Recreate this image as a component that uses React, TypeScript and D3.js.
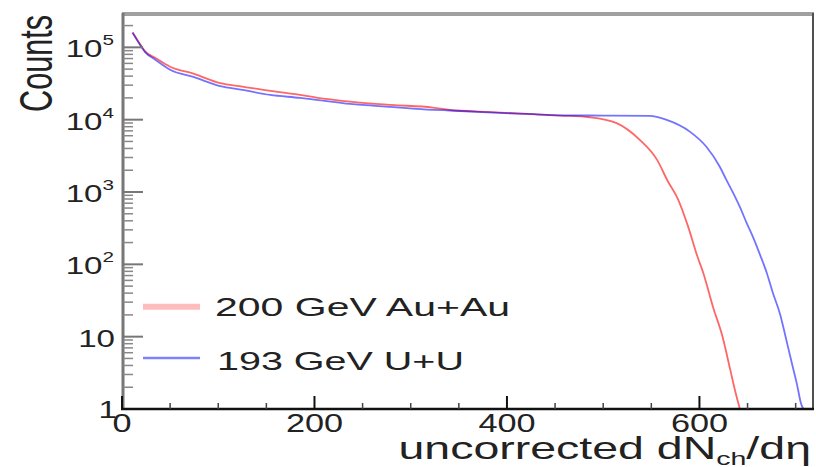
import React from "react";
import * as d3 from "d3";

const auX = [11, 18, 24, 35, 50, 75, 102, 125, 154, 185, 202, 237, 280, 323, 341, 380, 427, 455, 486, 514, 538, 556, 567, 578, 588, 598, 604, 614, 624, 632, 637, 642];
const auY = [1.6e5, 1.15e5, 8.8e4, 7.1e4, 5.4e4, 4.3e4, 3.2e4, 2.87e4, 2.5e4, 2.2e4, 2.02e4, 1.78e4, 1.6e4, 1.47e4, 1.36e4, 1.28e4, 1.19e4, 1.14e4, 1.08e4, 8950, 5250, 2780, 1420, 780, 340, 127, 76, 26, 10, 3.5, 1.8, 1];

const uuX = [11, 18, 24, 35, 50, 75, 102, 125, 154, 185, 202, 237, 280, 323, 341, 380, 427, 455, 500, 548, 566, 590, 607, 621, 628, 635, 642, 649, 656, 663, 670, 676, 684, 691, 697, 701, 706, 708];
const uuY = [1.6e5, 1.12e5, 8.6e4, 6.7e4, 4.9e4, 3.87e4, 2.9e4, 2.58e4, 2.2e4, 2.0e4, 1.88e4, 1.65e4, 1.5e4, 1.37e4, 1.34e4, 1.26e4, 1.19e4, 1.15e4, 1.14e4, 1.13e4, 9930, 6840, 4250, 2250, 1470, 972, 622, 374, 232, 135, 76, 41.5, 20, 8.2, 3.8, 2.3, 1.14, 1];

const xMajor = [0, 200, 400, 600];
const xMinor = [50, 100, 150, 250, 300, 350, 450, 500, 550, 650, 700];
const yDecades = [1, 2, 3, 4, 5];
const legendLabels = ["200 GeV Au+Au", "193 GeV U+U"];

const FONT = "'Liberation Sans', Arial, Helvetica, sans-serif";

export default function App() {
  const x = d3.scaleLinear().domain([0, 718]).range([122, 813]);
  const y = d3.scaleLog().domain([1, 2.8e5]).range([409, 15]);

  const auData = auX.map((v, i) => [v, auY[i]] as [number, number]);
  const uuData = uuX.map((v, i) => [v, uuY[i]] as [number, number]);
  const line = d3
    .line<[number, number]>()
    .x((d) => x(d[0]))
    .y((d) => y(d[1]))
    .curve(d3.curveMonotoneX);

  const yMinor: number[] = [];
  for (let e = 0; e <= 5; e++) {
    for (let m = 2; m <= 9; m++) {
      const v = m * Math.pow(10, e);
      if (v < 2.8e5) yMinor.push(v);
    }
  }
  const yLabels = [0, ...yDecades];

  return (
    <svg
      width={816}
      height={467}
      style={{ position: "absolute", left: 0, top: 0, background: "#fff" }}
      fontFamily={FONT}
    >
      <rect x={0} y={0} width={816} height={467} fill="#fff" />
      {/* frame */}
      <line x1={122} y1={14} x2={814} y2={14} stroke="#a0a0a0" strokeWidth={4} />
      <line x1={813} y1={13} x2={813} y2={410} stroke="#505050" strokeWidth={2} />

      {/* curves */}
      <path d={line(auData) || ""} fill="none" stroke="#ff0000" strokeWidth={1.8} strokeOpacity={0.6} />
      <path d={line(uuData) || ""} fill="none" stroke="#0000ff" strokeWidth={1.8} strokeOpacity={0.55} />

      {/* y axis */}
      <line x1={123} y1={13} x2={123} y2={410} stroke="#777" strokeWidth={3} />
      {yDecades.map((e) => (
        <line key={"ym" + e} x1={123} x2={143} y1={y(Math.pow(10, e))} y2={y(Math.pow(10, e))} stroke="#777" strokeWidth={2} />
      ))}
      {yMinor.map((v) => (
        <line key={"yn" + v} x1={123} x2={133} y1={y(v)} y2={y(v)} stroke="#888" strokeWidth={1.5} />
      ))}
      {yLabels.map((e) => {
        const yy = y(Math.pow(10, e)) + 10;
        if (e === 0) {
          return (
            <text key={"yl" + e} transform={`translate(117,${yy - 1}) scale(1.38,1)`} textAnchor="end" fontSize={24} fill="#222">
              1
            </text>
          );
        }
        if (e === 1) {
          return (
            <text key={"yl" + e} transform={`translate(115,${yy}) scale(1.38,1)`} textAnchor="end" fontSize={24} fill="#222">
              10
            </text>
          );
        }
        return (
          <text key={"yl" + e} transform={`translate(114,${yy}) scale(1.38,1)`} textAnchor="end" fontSize={24} fill="#222">
            10
            <tspan fontSize={15} dy={-12}>
              {String(e)}
            </tspan>
          </text>
        );
      })}

      {/* x axis */}
      <line x1={121} y1={409} x2={814} y2={409} stroke="#111" strokeWidth={2.5} />
      {xMajor.map((v) => (
        <line key={"xm" + v} x1={x(v)} x2={x(v)} y1={409} y2={396} stroke="#111" strokeWidth={2} />
      ))}
      {xMinor.map((v) => (
        <line key={"xn" + v} x1={x(v)} x2={x(v)} y1={409} y2={403} stroke="#444" strokeWidth={1.5} />
      ))}
      {xMajor.map((v) => (
        <text key={"xl" + v} transform={`translate(${x(v)},432) scale(1.37,1)`} textAnchor="middle" fontSize={25} fill="#222">
          {String(v)}
        </text>
      ))}

      {/* axis titles */}
      <text transform="translate(52,15) scale(1.5,1) rotate(-90)" textAnchor="end" fontSize={30.6} fill="#222">
        Counts
      </text>
      <text transform="translate(811,459) scale(1.5,1)" textAnchor="end" fontSize={31} fill="#222">
        uncorrected dN
        <tspan fontSize={19} dy={6}>
          ch
        </tspan>
        <tspan dy={-6}>/dη</tspan>
      </text>

      {/* legend */}
      <line x1={143} x2={200} y1={306.7} y2={306.7} stroke="#ffbcbc" strokeWidth={6} />
      <line x1={143} x2={200} y1={358} y2={358} stroke="#8080ff" strokeWidth={2.5} />
      <text transform="translate(215,316) scale(1.64,1)" fontSize={25} fill="#222">
        {legendLabels[0]}
      </text>
      <text transform="translate(217,370) scale(1.58,1)" fontSize={25} fill="#222">
        {legendLabels[1]}
      </text>
    </svg>
  );
}
